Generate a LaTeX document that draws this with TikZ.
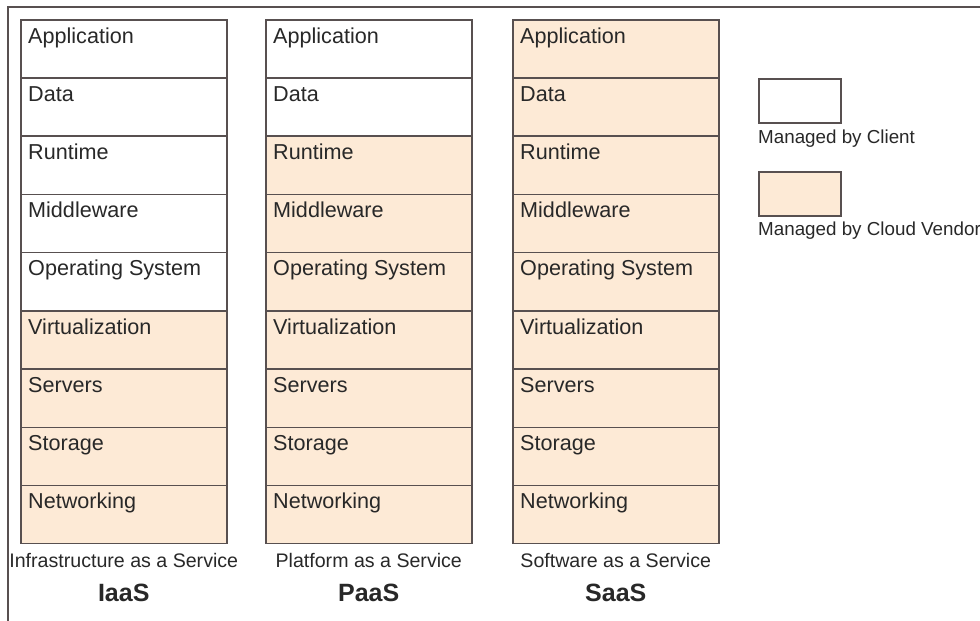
\documentclass[tikz,border=0pt]{standalone}
\usepackage{fontspec}
\setmainfont{Liberation Sans}
\usetikzlibrary{positioning}
\definecolor{vendor}{RGB}{253,234,214}
\definecolor{edge}{RGB}{88,80,80}
\definecolor{ink}{RGB}{40,40,40}
\tikzset{
  layer/.style={draw=edge, line width=1.5pt, minimum width=206pt, minimum height=58.2pt, inner sep=0pt, anchor=north west},
  layertext/.style={anchor=base west, inner sep=0pt, text=ink, font=\fontsize{21.6}{26}\selectfont},
  subtext/.style={anchor=base, inner sep=0pt, text=ink, font=\fontsize{19.6}{23}\selectfont},
  abbrev/.style={anchor=base, inner sep=0pt, text=ink, font=\fontsize{25}{30}\selectfont\bfseries},
  keybox/.style={draw=edge, line width=1.5pt, minimum width=82pt, minimum height=44pt, inner sep=0pt, anchor=north west},
  keytext/.style={anchor=base west, inner sep=0pt, text=ink, font=\fontsize{18.8}{22}\selectfont}
}

\begin{document}
\begin{tikzpicture}[x=1pt,y=-1pt]
\useasboundingbox (0,0) rectangle (980,621);
\draw[edge, line width=1.5pt] (980,7) -- (8,7) -- (8,621);

% the three stacks
\foreach \col/\tag/\nwhite/\full/\short in {20/iaas/5/Infrastructure as a Service/IaaS, 265/paas/2/Platform as a Service/PaaS, 512/saas/0/Software as a Service/SaaS}{
  \foreach \txt [count=\i] in {Application,Data,Runtime,Middleware,Operating System,Virtualization,Servers,Storage,Networking}{
    \ifnum\i>\nwhite \def\shade{vendor}\else\def\shade{white}\fi
    \pgfmathsetmacro\top{19+(\i-1)*58.22}
    \node[layer, fill=\shade] (\tag-\i) at (\col,\top) {};
    \node[layertext] at ([xshift=8pt,yshift=-24pt]\tag-\i.north west) {\txt};
  }
  \node[subtext] (\tag-full) at ([yshift=-23pt]\tag-9.south) {\full};
  \node[abbrev] (\tag-short) at ([yshift=-34pt]\tag-full.base) {\short};
}

% legend
\node[keybox, fill=white] (client) at (758,78) {};
\node[keytext] at ([yshift=-20pt]client.south west) {Managed by Client};
\node[keybox, fill=vendor] (cloud) at (758,171) {};
\node[keytext] at ([yshift=-19pt]cloud.south west) {Managed by Cloud Vendor};
\end{tikzpicture}
\end{document}
